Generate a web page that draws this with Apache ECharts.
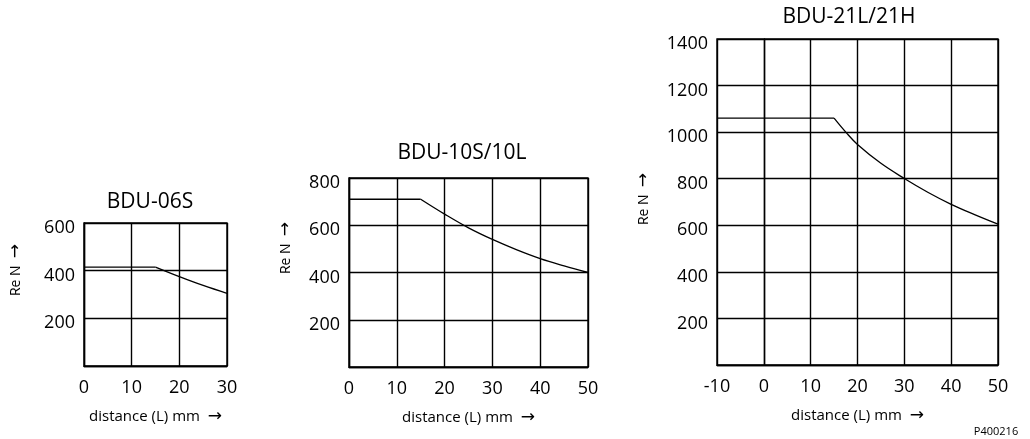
<!DOCTYPE html>
<html>
<head>
<meta charset="utf-8">
<script src="https://cdn.jsdelivr.net/npm/echarts@6/dist/echarts.min.js"></script>
<style>
html,body{margin:0;padding:0;background:#fff;}
#c{width:1030px;height:439px;}
</style>
</head>
<body>
<div id="c"></div>
<script>
// ---- data ----
const titles = ['BDU-06S', 'BDU-10S/10L', 'BDU-21L/21H'];
const xName = 'distance (L) mm  {a|\u2192}';
const yName = 'Re N  {a|\u2192}';
const footnote = 'P400216';

const xMin = [0, 0, -10];
const xMax = [30, 50, 50];
const yMax = [600, 800, 1400];

// first two points: constant segment; from the 2nd point on: decreasing curve
const dist06 = [0, 15, 20, 25, 30];
const force06 = [415, 415, 375, 338, 305];

const dist10 = [0, 15, 20, 25, 30, 35, 40, 45, 50];
const force10 = [710, 710, 647, 589, 540, 497, 459, 428, 400];

const dist21 = [-10, 15, 17.5, 20, 25, 30, 35, 40, 45, 50];
const force21 = [1060, 1060, 1000, 947, 866, 801, 742, 690, 646, 605];

// ---- layout ----
const FONT = 'Open Sans';
const grids = [
  {left: 84, top: 223, width: 143, height: 143},
  {left: 349, top: 178, width: 239, height: 189},
  {left: 717, top: 39, width: 281, height: 326}
];
const titlePos = [[150, 202], [462, 153], [849, 17]];
const yNamePos = [[16, 270], [286, 248], [644, 199]];

const dists = [dist06, dist10, dist21];
const forces = [force06, force10, force21];
const pts = dists.map((d, k) => d.map((x, i) => [x, forces[k][i]]));

const lineStyle = {color: '#000', width: 1.4};
const arrowRich = {a: {fontFamily: 'DejaVu Sans', fontSize: 17, color: '#000'}};

const series = [];
pts.forEach((p, i) => {
  series.push({
    type: 'line', xAxisIndex: i, yAxisIndex: i, data: p.slice(0, 2),
    showSymbol: false, symbol: 'none', lineStyle: {color: '#000', width: 1.3}, z: 5
  });
  series.push({
    type: 'line', xAxisIndex: i, yAxisIndex: i, data: p.slice(1),
    smooth: 0.4, showSymbol: false, symbol: 'none',
    lineStyle: {color: '#000', width: 1.3}, z: 5
  });
});

const option = {
  backgroundColor: '#fff',
  animation: false,
  grid: grids.map(g => Object.assign({show: true, borderColor: '#000', borderWidth: 1.4, backgroundColor: 'transparent'}, g)),
  xAxis: grids.map((g, i) => ({
    type: 'value', gridIndex: i, min: xMin[i], max: xMax[i], interval: 10,
    name: xName, nameLocation: 'middle', nameGap: 42,
    nameTextStyle: {fontFamily: FONT, fontSize: 15, color: '#000', rich: arrowRich},
    axisLine: {show: true, lineStyle: lineStyle},
    axisTick: {show: false},
    axisLabel: {fontFamily: FONT, fontSize: 18, color: '#000', margin: 13},
    splitLine: {show: true, lineStyle: lineStyle}
  })),
  yAxis: grids.map((g, i) => ({
    type: 'value', gridIndex: i, min: 0, max: yMax[i], interval: 200,
    axisLine: {show: true, lineStyle: lineStyle},
    axisTick: {show: false},
    axisLabel: {color: '#000', margin: 9,
      formatter: v => v === 0 ? '' : '{v|' + v + '}',
      rich: {v: {fontFamily: FONT, fontSize: 18, color: '#000', padding: [10, 0, 0, 0]}}},
    splitLine: {show: true, lineStyle: lineStyle}
  })),
  series: series,
  graphic: [].concat(
    titles.map((t, i) => ({
      type: 'text', x: titlePos[i][0], y: titlePos[i][1],
      style: {text: t, fontFamily: FONT, fontSize: 21, fill: '#000', textAlign: 'center', textVerticalAlign: 'middle'}
    })),
    yNamePos.map(p => ({
      type: 'text', x: p[0], y: p[1], rotation: Math.PI / 2,
      style: {text: yName, fontFamily: FONT, fontSize: 14, fill: '#000', textAlign: 'center', textVerticalAlign: 'middle', rich: arrowRich}
    })),
    [{
      type: 'text', x: 996, y: 432,
      style: {text: footnote, fontFamily: FONT, fontSize: 11, fill: '#000', textAlign: 'center', textVerticalAlign: 'middle'}
    }]
  )
};

const chart = echarts.init(document.getElementById('c'), null, {renderer: 'canvas'});
chart.setOption(option);
</script>
</body>
</html>
